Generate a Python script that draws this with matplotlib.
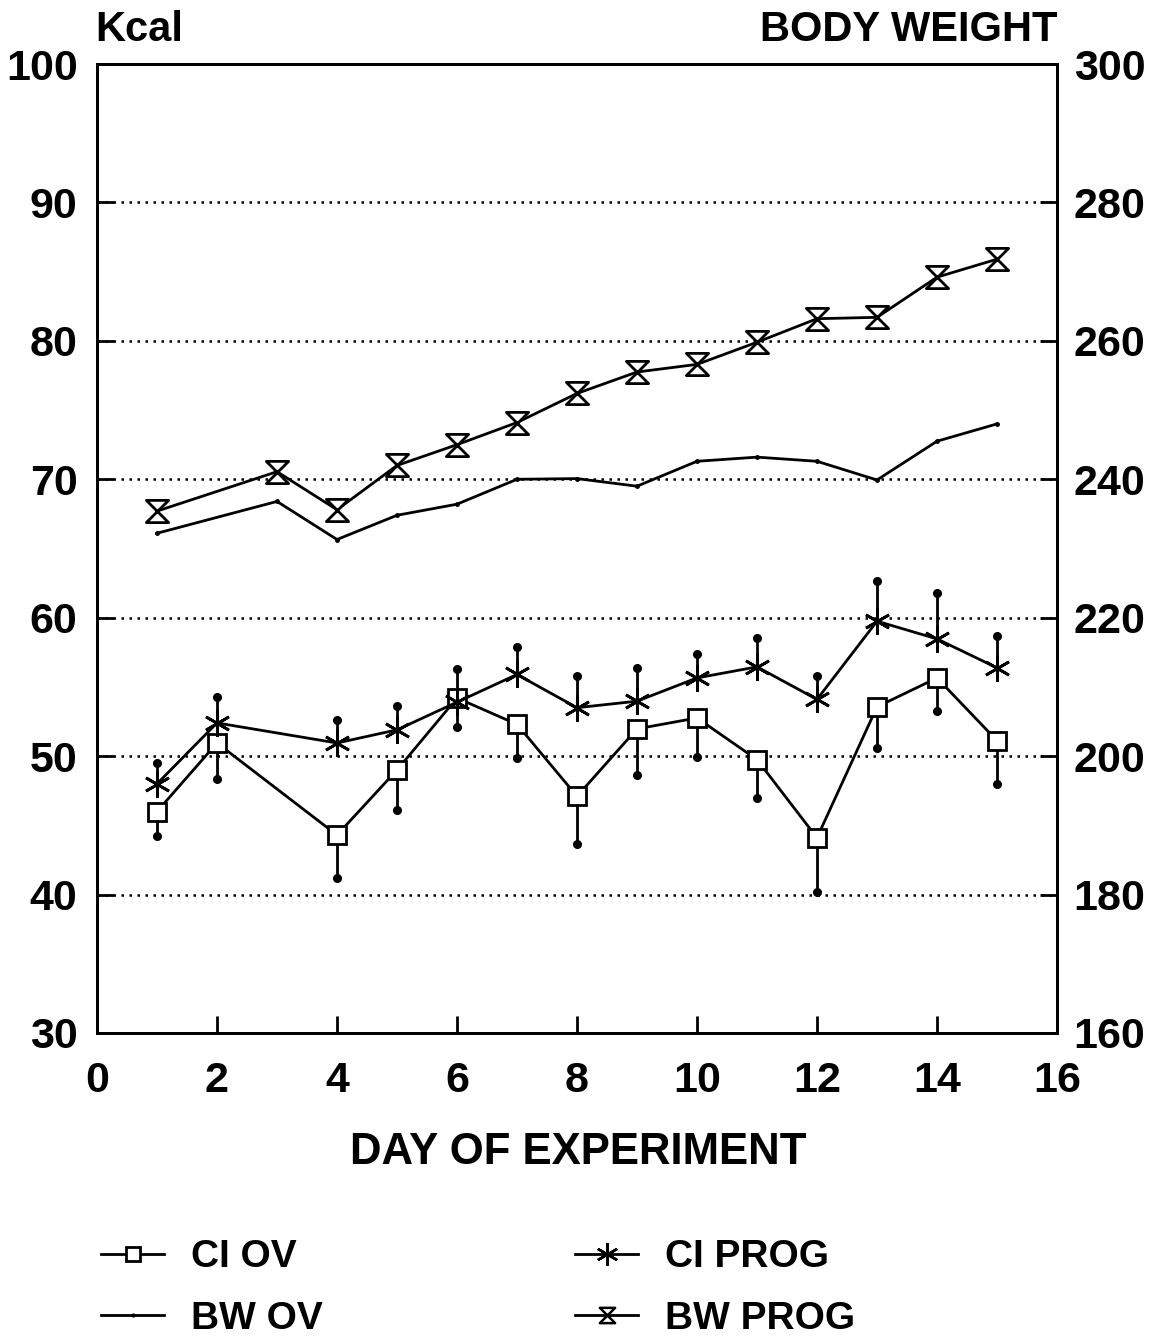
import numpy as np
import matplotlib
matplotlib.use('Agg')
import matplotlib.pyplot as plt
from matplotlib.path import Path
from matplotlib.lines import Line2D

plt.rcParams['font.family'] = 'Liberation Sans'
plt.rcParams['font.weight'] = 'bold'

# Ingesta calórica (Kcal) con error estándar, sin registro el día 3
dias_ci = [1, 2, 4, 5, 6, 7, 8, 9, 10, 11, 12, 13, 14, 15]
ci_ov = [46.0, 50.95, 44.3, 49.0, 54.2, 52.3, 47.1, 51.97, 52.76, 49.75, 44.1, 53.56, 55.65, 51.12]
err_ci_ov = [1.75, 2.6, 3.1, 2.9, 2.1, 2.4, 3.45, 3.3, 2.85, 2.77, 3.9, 3.0, 2.4, 3.1]
ci_prog = [48.0, 52.4, 50.95, 51.9, 53.9, 55.9, 53.5, 53.97, 55.65, 56.45, 54.1, 59.75, 58.47, 56.38]
err_ci_prog = [1.5, 1.85, 1.65, 1.75, 2.4, 2.0, 2.3, 2.4, 1.7, 2.05, 1.7, 2.9, 3.3, 2.3]

# Peso corporal (g), sin registro el día 2
dias_bw = [1, 3, 4, 5, 6, 7, 8, 9, 10, 11, 12, 13, 14, 15]
bw_ov = [232.2, 236.8, 231.3, 234.8, 236.4, 240.0, 240.1, 239.0, 242.6, 243.2, 242.6, 239.9, 245.5, 248.0]
bw_prog = [235.4, 241.1, 235.6, 242.0, 245.0, 248.2, 252.4, 255.5, 256.6, 259.8, 263.2, 263.4, 269.2, 271.8]

# marcador tipo reloj de arena
reloj = Path([(-1, 1), (1, 1), (-1, -1), (1, -1), (-1, 1)],
             [Path.MOVETO, Path.LINETO, Path.LINETO, Path.LINETO, Path.CLOSEPOLY])

fig = plt.figure(figsize=(11.6, 13.41), dpi=100)
ax = fig.add_axes([97 / 1160, 1 - 1033 / 1341, 960 / 1160, 969 / 1341])
ax2 = ax.twinx()

fs = 31
ax.set_xlim(0, 16)
ax.set_ylim(30, 100)
ax2.set_ylim(160, 300)
ax.set_xticks(range(0, 17, 2))
ax.set_yticks(range(30, 101, 10))
ax2.set_yticks(range(160, 301, 20))
for eje in (ax, ax2):
    eje.tick_params(direction='in', length=12, width=2, labelsize=fs)
    for sp in eje.spines.values():
        sp.set_linewidth(2)
ax.tick_params(axis='x', pad=20)
ax.tick_params(axis='y', pad=14)
ax2.tick_params(axis='y', pad=12)

for g in range(40, 100, 10):
    ax.axhline(g, color='black', linestyle=(0, (1, 2.2)), linewidth=1.8, zorder=1)

negro = 'black'

# barras de error de un solo lado, con punto al extremo
ci_ov_a = np.array(ci_ov)
ci_prog_a = np.array(ci_prog)
ax.vlines(dias_ci, ci_ov_a - np.array(err_ci_ov), ci_ov_a, color=negro, lw=2, zorder=2)
ax.vlines(dias_ci, ci_prog_a, ci_prog_a + np.array(err_ci_prog), color=negro, lw=2, zorder=2)
ax.plot(dias_ci, ci_ov_a - np.array(err_ci_ov), 'o', color=negro, ms=5.5, zorder=3)
ax.plot(dias_ci, ci_prog_a + np.array(err_ci_prog), 'o', color=negro, ms=5.5, zorder=3)

ax.plot(dias_ci, ci_ov, '-', color=negro, lw=2, marker='s', ms=13, mfc='white',
        mec=negro, mew=2, zorder=4)
ax.plot(dias_ci, ci_prog, '-', color=negro, lw=2, marker=(6, 2, 0), ms=19,
        mec=negro, mew=2, zorder=4)
ax2.plot(dias_bw, bw_ov, '-', color=negro, lw=2, marker='.', ms=5, zorder=4)
ax2.plot(dias_bw, bw_prog, '-', color=negro, lw=2, marker=reloj, ms=16, mfc='white',
         mec=negro, mew=2, zorder=4)

fig.text(95 / 1160, 1 - 30 / 1341, 'Kcal', fontsize=30, fontweight='bold', ha='left', va='center')
fig.text(1057 / 1160, 1 - 30 / 1341, 'BODY WEIGHT', fontsize=30, fontweight='bold',
         ha='right', va='center')
fig.text(578 / 1160, 1 - 1152 / 1341, 'DAY OF EXPERIMENT', fontsize=31.5, fontweight='bold',
         ha='center', va='center')

handles = [
    Line2D([], [], color=negro, lw=2, marker='s', ms=10, mfc='white', mec=negro, mew=2),
    Line2D([], [], color=negro, lw=2, marker='.', ms=4),
    Line2D([], [], color=negro, lw=2, marker=(6, 2, 0), ms=16, mec=negro, mew=1.8),
    Line2D([], [], color=negro, lw=2, marker=reloj, ms=11, mfc='white', mec=negro, mew=1.8),
]
labels = ['CI OV', 'BW OV', 'CI PROG', 'BW PROG']
fig.legend(handles, labels, loc='upper left', bbox_to_anchor=(82 / 1160, 1 - 1220 / 1341),
           ncol=2, frameon=False, fontsize=28, handlelength=1.6, handletextpad=0.7,
           columnspacing=6.5, labelspacing=0.65, borderpad=0)

fig.savefig('out.png', dpi=100)
